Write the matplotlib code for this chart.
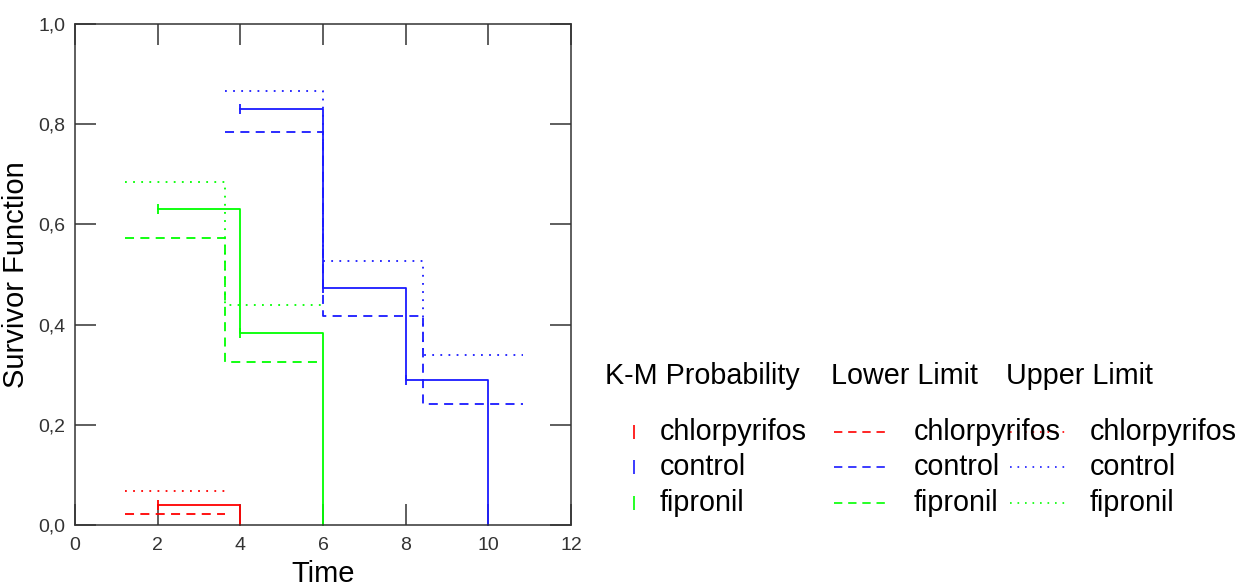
import matplotlib
matplotlib.use("Agg")
import matplotlib.pyplot as plt
from matplotlib.lines import Line2D

plt.rcParams['font.family'] = ['Liberation Sans', 'DejaVu Sans']

# K-M estimates (time, survival) per group
groups = ['chlorpyrifos', 'control', 'fipronil']
colors = {'chlorpyrifos': '#ff0000', 'control': '#1a1aff', 'fipronil': '#00ff00'}

km_time = {
    'chlorpyrifos': [2, 4],
    'control': [4, 6, 8, 10],
    'fipronil': [2, 4, 6],
}
km_surv = {
    'chlorpyrifos': [0.04, 0.0],
    'control': [0.83, 0.473, 0.29, 0.0],
    'fipronil': [0.63, 0.383, 0.0],
}

# confidence limits (as drawn, step edges)
lim_time = {
    'chlorpyrifos': [1.22, 3.62],
    'control': [3.62, 6.0, 8.41, 10.85],
    'fipronil': [1.22, 3.62, 6.0],
}
lower = {
    'chlorpyrifos': [0.021],
    'control': [0.785, 0.418, 0.242],
    'fipronil': [0.572, 0.325],
}
upper = {
    'chlorpyrifos': [0.068],
    'control': [0.866, 0.526, 0.34],
    'fipronil': [0.685, 0.44],
}

xticks = [0, 2, 4, 6, 8, 10, 12]
yticks = [0.0, 0.2, 0.4, 0.6, 0.8, 1.0]
ytick_labels = ['0,0', '0,2', '0,4', '0,6', '0,8', '1,0']

LW = 1.3
DASHED = (0, (5, 3.5))
DOTTED = (0, (1, 3.5))

fig = plt.figure(figsize=(12.43, 5.88), dpi=100)
ax = fig.add_axes([75 / 1243, 1 - 525 / 588, (571 - 75) / 1243, (525 - 24) / 588])

for g in groups:
    c = colors[g]
    t, s = km_time[g], km_surv[g]
    ax.step(t, s, where='post', color=c, lw=LW, clip_on=False)
    ax.plot(t[:-1], s[:-1], ls='none', marker='|', ms=7, mew=LW, color=c)

    lt = lim_time[g]
    lo = lower[g] + [lower[g][-1]]
    up = upper[g] + [upper[g][-1]]
    ax.step(lt, lo, where='post', color=c, lw=LW, ls=DASHED)
    ax.step(lt, up, where='post', color=c, lw=LW, ls=DOTTED)

ax.set_xlim(0, 12)
ax.set_ylim(0, 1.0)
ax.set_xticks(xticks)
ax.set_yticks(yticks)
ax.set_yticklabels(ytick_labels)
ax.tick_params(direction='in', length=15, width=1.1, top=True, right=True,
               labelsize=14, colors='#333333')
ax.tick_params(axis='y', pad=7)
ax.tick_params(axis='x', pad=9)
for sp in ax.spines.values():
    sp.set_linewidth(1.1)
    sp.set_color('#333333')

ax.set_xlabel('Time', fontsize=21, labelpad=4)
ax.set_ylabel('Survivor Function', fontsize=21, labelpad=6)

# legend table drawn in figure pixels
W, H = 1243, 588
def fx(px):
    return px / W
def fy(py):
    return 1 - py / H

fs = 20.7
fig.text(fx(605), fy(376), 'K-M Probability', fontsize=fs, va='center', ha='left')
fig.text(fx(831), fy(376), 'Lower Limit', fontsize=fs, va='center', ha='left')
fig.text(fx(1006), fy(376), 'Upper Limit', fontsize=fs, va='center', ha='left')

row_y = [432, 467, 503]
for g, py in zip(groups, row_y):
    c = colors[g]
    fig.add_artist(Line2D([fx(634)], [fy(py)], marker='|', ms=10, mew=1.2,
                          color=c, ls='none', transform=fig.transFigure))
    fig.text(fx(660), fy(py), g, fontsize=fs, va='center', ha='left')
    fig.add_artist(Line2D([fx(834), fx(885)], [fy(py), fy(py)], color=c, lw=1.2,
                          ls=DASHED, transform=fig.transFigure))
    fig.text(fx(914), fy(py), g, fontsize=fs, va='center', ha='left')
    fig.add_artist(Line2D([fx(1010), fx(1067)], [fy(py), fy(py)], color=c, lw=1.2,
                          ls=DOTTED, transform=fig.transFigure))
    fig.text(fx(1090), fy(py), g, fontsize=fs, va='center', ha='left')

fig.savefig('out.png', dpi=100, facecolor='white')
